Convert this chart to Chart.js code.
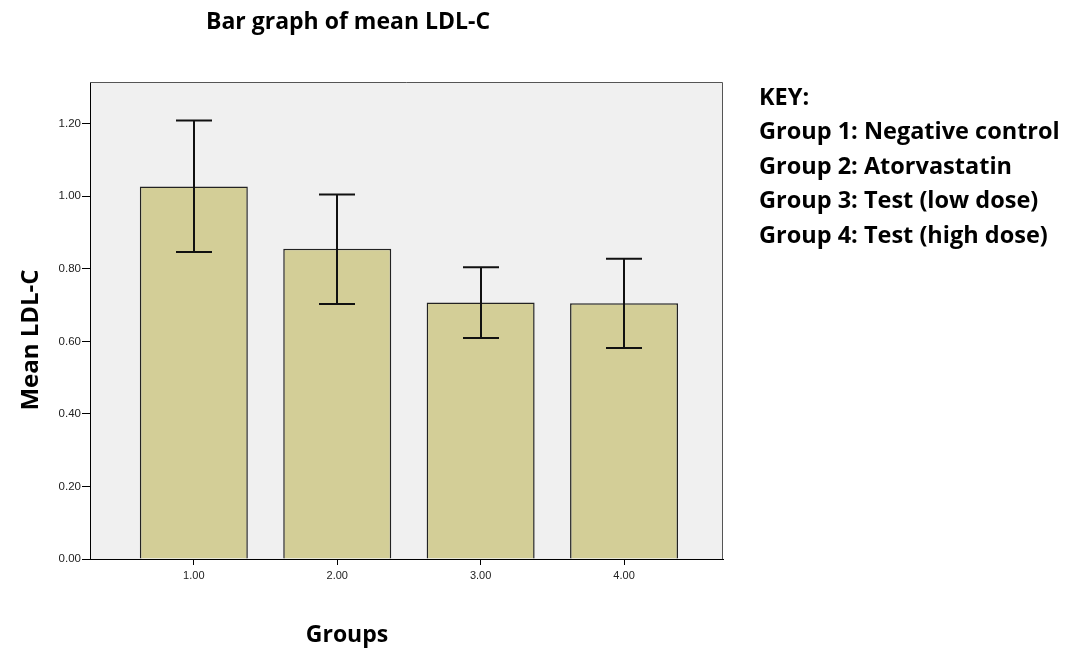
<!DOCTYPE html>
<html>
<head>
<meta charset="utf-8">
<script src="https://cdn.jsdelivr.net/npm/chart.js@4/dist/chart.umd.min.js"></script>
<style>
  html, body { margin: 0; padding: 0; background: #ffffff; }
  #wrap { width: 1074px; height: 650px; position: relative; }
</style>
</head>
<body>
<div id="wrap"><canvas id="c" width="1074" height="650"></canvas></div>
<script>
// Group numbers and their mean LDL-C with the ends of each error bar
const groups = [1, 2, 3, 4];
const groupLabels = ['1.00', '2.00', '3.00', '4.00'];
const means = [1.027, 0.855, 0.707, 0.705];
const errLow = [0.846, 0.703, 0.609, 0.582];
const errHigh = [1.209, 1.005, 0.804, 0.828];
const yTicks = [0, 0.2, 0.4, 0.6, 0.8, 1.0, 1.2];

const chartTitle = 'Bar graph of mean LDL-C';
const xTitle = 'Groups';
const yTitle = 'Mean LDL-C';
const keyLines = [
  'KEY:',
  'Group 1: Negative control',
  'Group 2: Atorvastatin',
  'Group 3: Test (low dose)',
  'Group 4: Test (high dose)'
];

const headFont = '"Open Sans", "Liberation Sans", sans-serif';

const plotFrame = {
  id: 'plotFrame',
  beforeDraw(chart) {
    const { ctx, chartArea: a } = chart;
    ctx.save();
    ctx.fillStyle = '#f0f0f0';
    ctx.fillRect(a.left, a.top, a.right - a.left, a.bottom - a.top);
    ctx.restore();
  },
  afterDatasetsDraw(chart) {
    const { ctx, chartArea: a } = chart;
    ctx.save();
    ctx.strokeStyle = '#555555';
    ctx.lineWidth = 1;
    ctx.beginPath();
    ctx.moveTo(a.left, a.top + 0.5);
    ctx.lineTo(a.right - 0.5, a.top + 0.5);
    ctx.lineTo(a.right - 0.5, a.bottom);
    ctx.stroke();
    ctx.restore();
  }
};

const errorBars = {
  id: 'errorBars',
  afterDatasetsDraw(chart) {
    const { ctx } = chart;
    const xs = chart.scales.x, ys = chart.scales.y;
    ctx.save();
    ctx.strokeStyle = '#111111';
    ctx.lineWidth = 2;
    groups.forEach((g, i) => {
      const x = Math.round(xs.getPixelForValue(g));
      const yH = ys.getPixelForValue(errHigh[i]);
      const yL = ys.getPixelForValue(errLow[i]);
      ctx.beginPath();
      ctx.moveTo(x, yH); ctx.lineTo(x, yL);
      ctx.moveTo(x - 18, yH); ctx.lineTo(x + 18, yH);
      ctx.moveTo(x - 18, yL); ctx.lineTo(x + 18, yL);
      ctx.stroke();
    });
    ctx.restore();
  }
};

const texts = {
  id: 'texts',
  afterDraw(chart) {
    const { ctx } = chart;
    ctx.save();
    ctx.fillStyle = '#000000';
    ctx.textBaseline = 'middle';
    ctx.textAlign = 'center';
    ctx.font = 'bold 23px ' + headFont;
    ctx.fillText(chartTitle, 348, 22);
    ctx.font = 'bold 23px ' + headFont;
    ctx.fillText(xTitle, 347, 635);
    ctx.save();
    ctx.translate(31, 340);
    ctx.rotate(-Math.PI / 2);
    ctx.font = 'bold 24px ' + headFont;
    ctx.fillText(yTitle, 0, 0);
    ctx.restore();
    ctx.textAlign = 'left';
    ctx.font = 'bold 23.5px ' + headFont;
    keyLines.forEach((t, i) => ctx.fillText(t, 759, 98 + i * 34.5));
    ctx.restore();
  }
};

new Chart(document.getElementById('c'), {
  type: 'bar',
  data: {
    datasets: [{
      data: groups.map((g, i) => ({ x: g, y: means[i] })),
      backgroundColor: '#d3ce97',
      borderColor: '#222222',
      borderWidth: 1.5,
      barPercentage: 0.753,
      categoryPercentage: 1
    }]
  },
  options: {
    responsive: false,
    animation: false,
    devicePixelRatio: 1,
    layout: { padding: { left: 40, top: 82, right: 351, bottom: 51 } },
    plugins: { legend: { display: false }, tooltip: { enabled: false } },
    scales: {
      x: {
        type: 'linear',
        offset: false,
        min: 0.276,
        max: 4.69,
        afterBuildTicks(s) { s.ticks = groups.map(v => ({ value: v })); },
        afterFit(s) { s.height = 40; },
        ticks: {
          autoSkip: false,
          maxRotation: 0,
          padding: 4,
          color: '#222222',
          font: { family: '"Liberation Sans", Arial, sans-serif', size: 11 },
          callback: (v) => groupLabels[groups.indexOf(v)]
        },
        grid: { offset: false, drawOnChartArea: false, drawTicks: true, tickLength: 6, color: '#000000' },
        border: { display: true, color: '#000000', width: 1 }
      },
      y: {
        min: 0,
        max: 1.315,
        afterBuildTicks(s) { s.ticks = yTicks.map(v => ({ value: v })); },
        afterFit(s) { s.width = 50; },
        ticks: {
          padding: 1,
          color: '#222222',
          font: { family: '"Liberation Sans", Arial, sans-serif', size: 11.5 },
          callback: (v) => v.toFixed(2)
        },
        grid: { drawOnChartArea: false, drawTicks: true, tickLength: 8, color: '#000000' },
        border: { display: true, color: '#000000', width: 1 }
      }
    }
  },
  plugins: [plotFrame, errorBars, texts]
});
</script>
</body>
</html>
